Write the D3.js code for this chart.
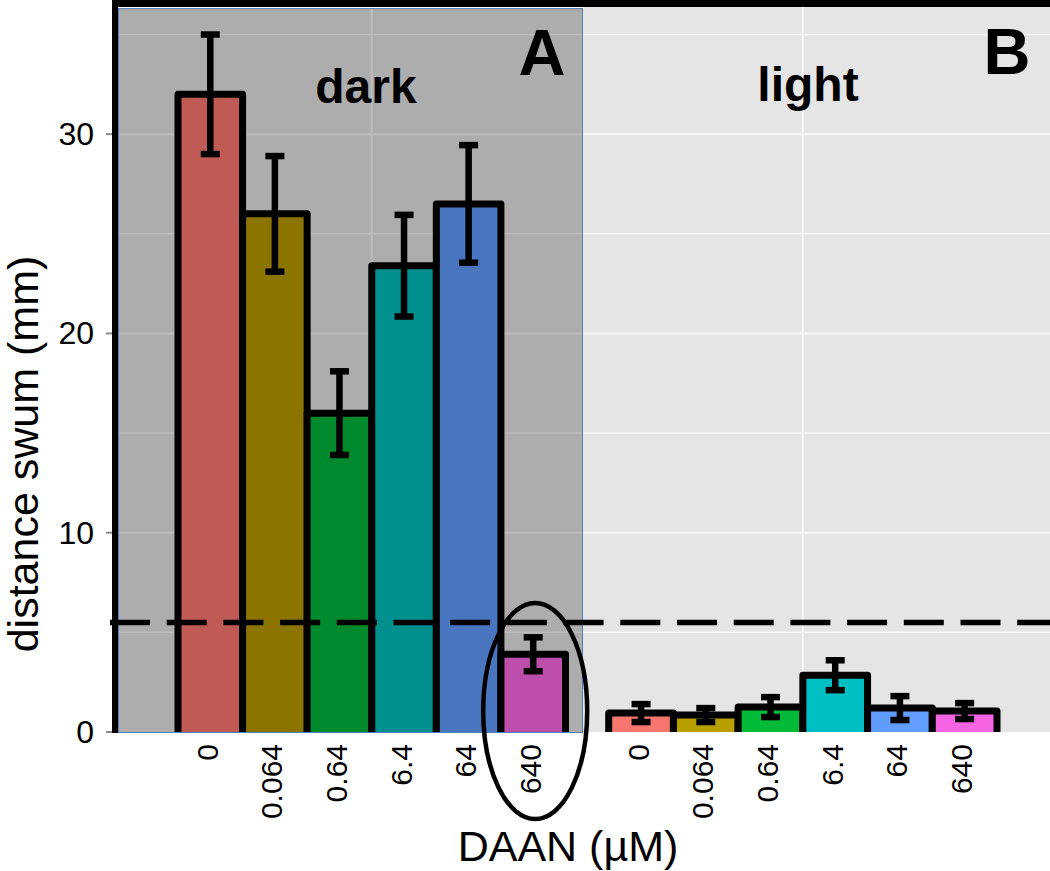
<!DOCTYPE html>
<html>
<head>
<meta charset="utf-8">
<script src="https://cdn.jsdelivr.net/npm/d3@7"></script>
<style>
  html, body { margin: 0; padding: 0; background: #ffffff; }
  svg { display: block; font-family: "Liberation Sans", Arial, sans-serif; }
</style>
</head>
<body>
<svg id="chart" width="1050" height="871"></svg>
<script>
// ---------------- data ----------------
const concentrations = ["0", "0.064", "0.64", "6.4", "64", "640"];
const darkMeans   = [32.0, 26.0, 16.0, 23.4, 26.5, 3.9];
const darkErrors  = [3.0, 2.9, 2.1, 2.55, 2.95, 0.85];
const lightMeans  = [0.95, 0.85, 1.25, 2.85, 1.2, 1.05];
const lightErrors = [0.45, 0.35, 0.5, 0.75, 0.6, 0.4];
const darkColors  = ["#bf5a54", "#8b7400", "#008a2d", "#008f8f", "#4a76c0", "#bb4fab"];
const lightColors = ["#f8766d", "#b79f00", "#00ba38", "#00bfc4", "#619cff", "#f564e3"];
const yTickValues = [0, 10, 20, 30];
const yGridValues = [5, 10, 15, 20, 25, 30, 35];
const yMax = 36.3;
const thresholdValue = 5.5;
const panelLabels = ["dark", "light"];
const panelLetters = ["A", "B"];
const yTitle = "distance swum (mm)";
const xTitle = "DAAN (\u00b5M)";

// ---------------- layout ----------------
const W = 1050, H = 871;
const plotBottom = 732;
const darkPanel = { x0: 118.5, x1: 582.5 };
const lightPanel = { x0: 583, x1: 1050 };

const svg = d3.select("#chart");

const y = d3.scaleLinear().domain([0, 35]).range([plotBottom, 34.5]);
const xDark = d3.scaleBand().domain(concentrations).range([178, 565.5]).padding(0);
const xLight = d3.scaleBand().domain(concentrations).range([608.7, 997]).padding(0);

const darkData = concentrations.map((c, i) => ({ c, v: darkMeans[i], e: darkErrors[i], col: darkColors[i] }));
const lightData = concentrations.map((c, i) => ({ c, v: lightMeans[i], e: lightErrors[i], col: lightColors[i] }));

svg.append("rect").attr("width", W).attr("height", H).attr("fill", "#ffffff");

svg.append("defs").append("clipPath").attr("id", "plotClip")
  .append("rect").attr("x", 0).attr("y", 0).attr("width", W).attr("height", plotBottom);

// light panel background
svg.append("rect")
  .attr("x", lightPanel.x0).attr("y", 0)
  .attr("width", lightPanel.x1 - lightPanel.x0).attr("height", plotBottom)
  .attr("fill", "#e5e5e5");

// light gridlines
svg.append("g").selectAll("line").data(yGridValues).join("line")
  .attr("x1", lightPanel.x0).attr("x2", lightPanel.x1)
  .attr("y1", d => y(d)).attr("y2", d => y(d))
  .attr("stroke", "#f7f7f7").attr("stroke-width", d => d % 10 === 0 ? 2 : 1.5);
svg.append("line")
  .attr("x1", xLight(concentrations[3])).attr("x2", xLight(concentrations[3]))
  .attr("y1", 0).attr("y2", plotBottom)
  .attr("stroke", "#f7f7f7").attr("stroke-width", 2);

// dark panel background
svg.append("rect")
  .attr("x", darkPanel.x0).attr("y", y(yMax))
  .attr("width", darkPanel.x1 - darkPanel.x0).attr("height", plotBottom - y(yMax) + 0.5)
  .attr("fill", "#adadad").attr("stroke", "#4f7fb8").attr("stroke-width", 1);

const darkGrid = svg.append("g");
darkGrid.selectAll("line").data(yGridValues).join("line")
  .attr("x1", darkPanel.x0 + 0.5).attr("x2", darkPanel.x1 - 0.5)
  .attr("y1", d => y(d)).attr("y2", d => y(d))
  .attr("stroke", "#bdbdbd").attr("stroke-width", d => d % 10 === 0 ? 2 : 1.5);
darkGrid.append("line")
  .attr("x1", xDark(concentrations[3])).attr("x2", xDark(concentrations[3]))
  .attr("y1", y(yMax) + 0.5).attr("y2", plotBottom)
  .attr("stroke", "#bdbdbd").attr("stroke-width", 2);

// bars + error bars
function drawBars(data, xs) {
  const g = svg.append("g").attr("clip-path", "url(#plotClip)");
  g.selectAll("rect").data(data).join("rect")
    .attr("x", d => xs(d.c))
    .attr("y", d => y(d.v))
    .attr("width", xs.bandwidth())
    .attr("height", d => y(0) - y(d.v) + 4)
    .attr("fill", d => d.col)
    .attr("stroke", "#000").attr("stroke-width", 7)
    .attr("stroke-linejoin", "round");
  const eg = svg.append("g");
  const cx = d => xs(d.c) + xs.bandwidth() / 2;
  eg.selectAll("line.v").data(data).join("line").attr("class", "v")
    .attr("x1", cx).attr("x2", cx)
    .attr("y1", d => y(d.v + d.e)).attr("y2", d => y(d.v - d.e))
    .attr("stroke", "#000").attr("stroke-width", 6.5);
  ["top", "bot"].forEach(k => {
    eg.selectAll("line." + k).data(data).join("line").attr("class", k)
      .attr("x1", d => cx(d) - 9.5).attr("x2", d => cx(d) + 9.5)
      .attr("y1", d => y(k === "top" ? d.v + d.e : d.v - d.e))
      .attr("y2", d => y(k === "top" ? d.v + d.e : d.v - d.e))
      .attr("stroke", "#000").attr("stroke-width", 6.5);
  });
}
drawBars(darkData, xDark);
drawBars(lightData, xLight);

// threshold dashed line
svg.append("line")
  .attr("x1", 110).attr("x2", W)
  .attr("y1", y(thresholdValue)).attr("y2", y(thresholdValue))
  .attr("stroke", "#000").attr("stroke-width", 5.5)
  .attr("stroke-dasharray", "40,16.7");

// black frame: top border and y axis line
svg.append("rect").attr("x", 112).attr("y", 0).attr("width", W - 112).attr("height", 7).attr("fill", "#000");
svg.append("rect").attr("x", 112).attr("y", 0).attr("width", 6).attr("height", plotBottom + 1).attr("fill", "#000");

// y axis ticks and labels
const yAxisG = svg.append("g");
yAxisG.selectAll("line").data(yTickValues).join("line")
  .attr("x1", 106).attr("x2", 112)
  .attr("y1", d => y(d)).attr("y2", d => y(d))
  .attr("stroke", "#8a8a8a").attr("stroke-width", 2);
yAxisG.selectAll("text").data(yTickValues).join("text")
  .attr("x", 94).attr("y", d => y(d))
  .attr("text-anchor", "end").attr("dominant-baseline", "central")
  .attr("font-size", 32).attr("fill", "#000")
  .text(d => d);

// x tick labels (rotated)
function xLabels(xs) {
  svg.append("g").selectAll("text").data(concentrations).join("text")
    .attr("transform", d => `translate(${xs(d) + xs.bandwidth() / 2 - 3},744) rotate(-90)`)
    .attr("text-anchor", "end").attr("dominant-baseline", "central")
    .attr("font-size", 30).attr("fill", "#000")
    .text(d => d);
}
xLabels(xDark);
xLabels(xLight);

// axis titles
svg.append("text")
  .attr("transform", `translate(38,454) rotate(-90)`)
  .attr("text-anchor", "middle").attr("font-size", 43).attr("fill", "#000")
  .text(yTitle);
svg.append("text")
  .attr("x", 568).attr("y", 861)
  .attr("text-anchor", "middle").attr("font-size", 43).attr("fill", "#000")
  .text(xTitle);

// panel labels
svg.append("text").attr("x", 366).attr("y", 103)
  .attr("text-anchor", "middle").attr("font-size", 48).attr("font-weight", "bold")
  .text(panelLabels[0]);
svg.append("text").attr("x", 808).attr("y", 101)
  .attr("text-anchor", "middle").attr("font-size", 48).attr("font-weight", "bold")
  .text(panelLabels[1]);
svg.append("text").attr("x", 542).attr("y", 75)
  .attr("text-anchor", "middle").attr("font-size", 65).attr("font-weight", "bold")
  .text(panelLetters[0]);
svg.append("text").attr("x", 1007).attr("y", 74)
  .attr("text-anchor", "middle").attr("font-size", 65).attr("font-weight", "bold")
  .text(panelLetters[1]);

// ellipse highlighting the 640 µM dark bar
svg.append("ellipse")
  .attr("cx", xDark("640") + xDark.bandwidth() / 2 + 2)
  .attr("cy", y(0) - 21)
  .attr("rx", 52).attr("ry", 108)
  .attr("fill", "none").attr("stroke", "#000").attr("stroke-width", 4.5);
</script>
</body>
</html>
